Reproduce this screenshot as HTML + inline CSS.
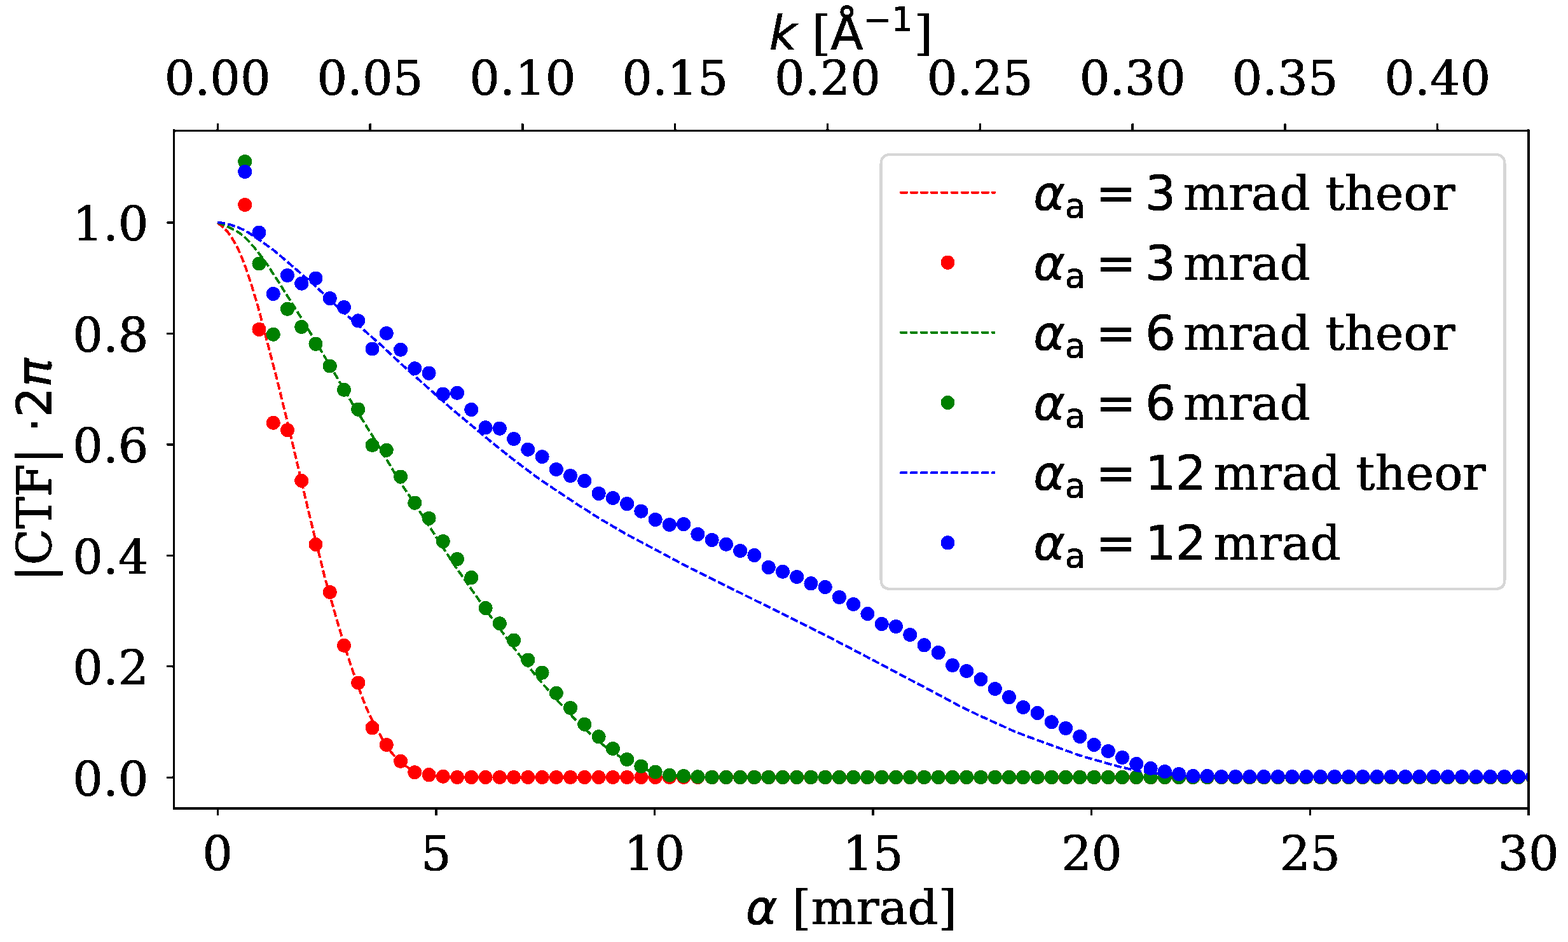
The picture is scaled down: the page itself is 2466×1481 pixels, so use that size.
<!DOCTYPE html>
<html><head><meta charset="utf-8"><title>CTF plot</title>
<style>html,body{margin:0;padding:0;background:#fff;}body{width:2466px;height:1481px;overflow:hidden;}svg{display:block;}
svg text{stroke:#000;stroke-width:0.24px;stroke-linejoin:round;}
</style></head><body>
<svg width="2466" height="1481" viewBox="0 0 591.84 355.44" version="1.1">
  <defs>
  <style type="text/css">*{stroke-linejoin: round; stroke-linecap: butt}</style>
 </defs>
 <filter id="alias" x="0" y="0" width="1" height="1" color-interpolation-filters="sRGB"><feComponentTransfer><feFuncA type="discrete" tableValues="0 1"/></feComponentTransfer></filter><g id="figure_1" filter="url(#alias)">
  <g id="patch_1">
   <path d="M 0 355.44 L 591.84 355.44 L 591.84 0 L 0 0 z
" style="fill: none"/>
  </g>
  <g id="axes_1">
   <g id="patch_2">
    <path d="M 65.64 305.04 L 576.96 305.04 L 576.96 49.32 L 65.64 49.32 z
" style="fill: none"/>
   </g>
   <g id="axes_2">
    <g id="patch_3">
     <path d="M 65.64 49.32 L 576.96 49.32 L 576.96 49.32 L 65.64 49.32 z
" style="fill: #ffffff"/>
    </g>
    <g id="matplotlib.axis_1">
     <g id="xtick_1">
      <g id="line2d_1">
       <defs>
        <path id="m0c11052400" d="M 0 0 L 0 -2.69 " style="stroke: #000000; stroke-width: 0.8"/>
       </defs>
       <g>
        <use href="#m0c11052400" x="82.134194" y="49.32" style="stroke: #000000; stroke-width: 0.8"/>
       </g>
      </g>
      <g id="text_1">
       <text style="font-size: 18px; font-family: 'DejaVu Serif', 'Liberation Serif', serif; text-anchor: middle" x="82.134194" y="35.676562" transform="rotate(-0 82.134194 35.676562)">0.00</text>
      </g>
     </g>
     <g id="xtick_2">
      <g id="line2d_2">
       <g>
        <use href="#m0c11052400" x="139.691507" y="49.32" style="stroke: #000000; stroke-width: 0.8"/>
       </g>
      </g>
      <g id="text_2">
       <text style="font-size: 18px; font-family: 'DejaVu Serif', 'Liberation Serif', serif; text-anchor: middle" x="139.691507" y="35.676562" transform="rotate(-0 139.691507 35.676562)">0.05</text>
      </g>
     </g>
     <g id="xtick_3">
      <g id="line2d_3">
       <g>
        <use href="#m0c11052400" x="197.24882" y="49.32" style="stroke: #000000; stroke-width: 0.8"/>
       </g>
      </g>
      <g id="text_3">
       <text style="font-size: 18px; font-family: 'DejaVu Serif', 'Liberation Serif', serif; text-anchor: middle" x="197.24882" y="35.676562" transform="rotate(-0 197.24882 35.676562)">0.10</text>
      </g>
     </g>
     <g id="xtick_4">
      <g id="line2d_4">
       <g>
        <use href="#m0c11052400" x="254.806133" y="49.32" style="stroke: #000000; stroke-width: 0.8"/>
       </g>
      </g>
      <g id="text_4">
       <text style="font-size: 18px; font-family: 'DejaVu Serif', 'Liberation Serif', serif; text-anchor: middle" x="254.806133" y="35.676562" transform="rotate(-0 254.806133 35.676562)">0.15</text>
      </g>
     </g>
     <g id="xtick_5">
      <g id="line2d_5">
       <g>
        <use href="#m0c11052400" x="312.363446" y="49.32" style="stroke: #000000; stroke-width: 0.8"/>
       </g>
      </g>
      <g id="text_5">
       <text style="font-size: 18px; font-family: 'DejaVu Serif', 'Liberation Serif', serif; text-anchor: middle" x="312.363446" y="35.676562" transform="rotate(-0 312.363446 35.676562)">0.20</text>
      </g>
     </g>
     <g id="xtick_6">
      <g id="line2d_6">
       <g>
        <use href="#m0c11052400" x="369.920759" y="49.32" style="stroke: #000000; stroke-width: 0.8"/>
       </g>
      </g>
      <g id="text_6">
       <text style="font-size: 18px; font-family: 'DejaVu Serif', 'Liberation Serif', serif; text-anchor: middle" x="369.920759" y="35.676562" transform="rotate(-0 369.920759 35.676562)">0.25</text>
      </g>
     </g>
     <g id="xtick_7">
      <g id="line2d_7">
       <g>
        <use href="#m0c11052400" x="427.478072" y="49.32" style="stroke: #000000; stroke-width: 0.8"/>
       </g>
      </g>
      <g id="text_7">
       <text style="font-size: 18px; font-family: 'DejaVu Serif', 'Liberation Serif', serif; text-anchor: middle" x="427.478072" y="35.676562" transform="rotate(-0 427.478072 35.676562)">0.30</text>
      </g>
     </g>
     <g id="xtick_8">
      <g id="line2d_8">
       <g>
        <use href="#m0c11052400" x="485.035385" y="49.32" style="stroke: #000000; stroke-width: 0.8"/>
       </g>
      </g>
      <g id="text_8">
       <text style="font-size: 18px; font-family: 'DejaVu Serif', 'Liberation Serif', serif; text-anchor: middle" x="485.035385" y="35.676562" transform="rotate(-0 485.035385 35.676562)">0.35</text>
      </g>
     </g>
     <g id="xtick_9">
      <g id="line2d_9">
       <g>
        <use href="#m0c11052400" x="542.592698" y="49.32" style="stroke: #000000; stroke-width: 0.8"/>
       </g>
      </g>
      <g id="text_9">
       <text style="font-size: 18px; font-family: 'DejaVu Serif', 'Liberation Serif', serif; text-anchor: middle" x="542.592698" y="35.676562" transform="rotate(-0 542.592698 35.676562)">0.40</text>
      </g>
     </g>
     <g id="text_10">
      <!-- $k$ [$\mathrm{\AA}^{-1}$] -->
      <g transform="translate(290.34 18.899375)">
       <text>
        <tspan x="0" y="-0.296875" style="font-style: oblique; font-size: 18px; font-family: 'DejaVu Sans', 'Liberation Sans', sans-serif">k</tspan>
        <tspan x="10.423828" y="-0.296875" style="font-size: 18px; font-family: 'DejaVu Serif', 'Liberation Serif', serif"> </tspan>
        <tspan x="16.145508" y="-0.296875" style="font-size: 18px; font-family: 'DejaVu Serif', 'Liberation Serif', serif">[</tspan>
        <tspan x="54.719824" y="-0.296875" style="font-size: 18px; font-family: 'DejaVu Serif', 'Liberation Serif', serif">]</tspan>
        <tspan x="23.167969" y="-0.296875" style="font-size: 18px; font-family: 'DejaVu Sans', 'Liberation Sans', sans-serif">Å</tspan>
        <tspan x="35.653711" y="-7.1875" style="font-size: 12.6px; font-family: 'DejaVu Sans', 'Liberation Sans', sans-serif">−</tspan>
        <tspan x="46.211133" y="-7.1875" style="font-size: 12.6px; font-family: 'DejaVu Sans', 'Liberation Sans', sans-serif">1</tspan>
       </text>
      </g>
     </g>
    </g>
    <g id="matplotlib.axis_2"/>
    <g id="patch_4">
     <path d="M 65.64 49.32 L 576.96 49.32 " style="fill: none; stroke: #000000; stroke-width: 0.8; stroke-linejoin: miter; stroke-linecap: square"/>
    </g>
   </g>
   <g id="matplotlib.axis_3">
    <g id="xtick_10">
     <g id="line2d_10">
      <defs>
       <path id="m625b74cdc7" d="M 0 0 L 0 2.69 " style="stroke: #000000; stroke-width: 0.8"/>
      </defs>
      <g>
       <use href="#m625b74cdc7" x="82.134194" y="305.04" style="stroke: #000000; stroke-width: 0.8"/>
      </g>
     </g>
     <g id="text_11">
      <text style="font-size: 18px; font-family: 'DejaVu Serif', 'Liberation Serif', serif; text-anchor: middle" x="82.134194" y="328.307187" transform="rotate(-0 82.134194 328.307187)">0</text>
     </g>
    </g>
    <g id="xtick_11">
     <g id="line2d_11">
      <g>
       <use href="#m625b74cdc7" x="164.605161" y="305.04" style="stroke: #000000; stroke-width: 0.8"/>
      </g>
     </g>
     <g id="text_12">
      <text style="font-size: 18px; font-family: 'DejaVu Serif', 'Liberation Serif', serif; text-anchor: middle" x="164.605161" y="328.307187" transform="rotate(-0 164.605161 328.307187)">5</text>
     </g>
    </g>
    <g id="xtick_12">
     <g id="line2d_12">
      <g>
       <use href="#m625b74cdc7" x="247.076129" y="305.04" style="stroke: #000000; stroke-width: 0.8"/>
      </g>
     </g>
     <g id="text_13">
      <text style="font-size: 18px; font-family: 'DejaVu Serif', 'Liberation Serif', serif; text-anchor: middle" x="247.076129" y="328.307187" transform="rotate(-0 247.076129 328.307187)">10</text>
     </g>
    </g>
    <g id="xtick_13">
     <g id="line2d_13">
      <g>
       <use href="#m625b74cdc7" x="329.547097" y="305.04" style="stroke: #000000; stroke-width: 0.8"/>
      </g>
     </g>
     <g id="text_14">
      <text style="font-size: 18px; font-family: 'DejaVu Serif', 'Liberation Serif', serif; text-anchor: middle" x="329.547097" y="328.307187" transform="rotate(-0 329.547097 328.307187)">15</text>
     </g>
    </g>
    <g id="xtick_14">
     <g id="line2d_14">
      <g>
       <use href="#m625b74cdc7" x="412.018065" y="305.04" style="stroke: #000000; stroke-width: 0.8"/>
      </g>
     </g>
     <g id="text_15">
      <text style="font-size: 18px; font-family: 'DejaVu Serif', 'Liberation Serif', serif; text-anchor: middle" x="412.018065" y="328.307187" transform="rotate(-0 412.018065 328.307187)">20</text>
     </g>
    </g>
    <g id="xtick_15">
     <g id="line2d_15">
      <g>
       <use href="#m625b74cdc7" x="494.489032" y="305.04" style="stroke: #000000; stroke-width: 0.8"/>
      </g>
     </g>
     <g id="text_16">
      <text style="font-size: 18px; font-family: 'DejaVu Serif', 'Liberation Serif', serif; text-anchor: middle" x="494.489032" y="328.307187" transform="rotate(-0 494.489032 328.307187)">25</text>
     </g>
    </g>
    <g id="xtick_16">
     <g id="line2d_16">
      <g>
       <use href="#m625b74cdc7" x="576.96" y="305.04" style="stroke: #000000; stroke-width: 0.8"/>
      </g>
     </g>
     <g id="text_17">
      <text style="font-size: 18px; font-family: 'DejaVu Serif', 'Liberation Serif', serif; text-anchor: middle" x="576.96" y="328.307187" transform="rotate(-0 576.96 328.307187)">30</text>
     </g>
    </g>
    <g id="text_18">
     <!-- $\alpha$ [mrad] -->
     <g transform="translate(281.52 348.957812)">
      <text>
       <tspan x="0" y="-0.328125" style="font-style: oblique; font-size: 18px; font-family: 'DejaVu Sans', 'Liberation Sans', sans-serif">α</tspan>
       <tspan x="11.865234" y="-0.328125" style="font-size: 18px; font-family: 'DejaVu Serif', 'Liberation Serif', serif"> </tspan>
       <tspan x="17.586914" y="-0.328125" style="font-size: 18px; font-family: 'DejaVu Serif', 'Liberation Serif', serif">[</tspan>
       <tspan x="24.609375" y="-0.328125" style="font-size: 18px; font-family: 'DejaVu Serif', 'Liberation Serif', serif">m</tspan>
       <tspan x="41.677734" y="-0.328125" style="font-size: 18px; font-family: 'DejaVu Serif', 'Liberation Serif', serif">r</tspan>
       <tspan x="50.282227" y="-0.328125" style="font-size: 18px; font-family: 'DejaVu Serif', 'Liberation Serif', serif">a</tspan>
       <tspan x="61.013672" y="-0.328125" style="font-size: 18px; font-family: 'DejaVu Serif', 'Liberation Serif', serif">d</tspan>
       <tspan x="72.536133" y="-0.328125" style="font-size: 18px; font-family: 'DejaVu Serif', 'Liberation Serif', serif">]</tspan>
      </text>
     </g>
    </g>
   </g>
   <g id="matplotlib.axis_4">
    <g id="ytick_1">
     <g id="line2d_17">
      <defs>
       <path id="m1a438928ec" d="M 0 0 L -2.69 0 " style="stroke: #000000; stroke-width: 0.8"/>
      </defs>
      <g>
       <use href="#m1a438928ec" x="65.64" y="293.328" style="stroke: #000000; stroke-width: 0.8"/>
      </g>
     </g>
     <g id="text_19">
      <text style="font-size: 18px; font-family: 'DejaVu Serif', 'Liberation Serif', serif; text-anchor: end" x="56.05" y="300.166594" transform="rotate(-0 56.05 300.166594)">0.0</text>
     </g>
    </g>
    <g id="ytick_2">
     <g id="line2d_18">
      <g>
       <use href="#m1a438928ec" x="65.64" y="251.4624" style="stroke: #000000; stroke-width: 0.8"/>
      </g>
     </g>
     <g id="text_20">
      <text style="font-size: 18px; font-family: 'DejaVu Serif', 'Liberation Serif', serif; text-anchor: end" x="56.05" y="258.300994" transform="rotate(-0 56.05 258.300994)">0.2</text>
     </g>
    </g>
    <g id="ytick_3">
     <g id="line2d_19">
      <g>
       <use href="#m1a438928ec" x="65.64" y="209.5968" style="stroke: #000000; stroke-width: 0.8"/>
      </g>
     </g>
     <g id="text_21">
      <text style="font-size: 18px; font-family: 'DejaVu Serif', 'Liberation Serif', serif; text-anchor: end" x="56.05" y="216.435394" transform="rotate(-0 56.05 216.435394)">0.4</text>
     </g>
    </g>
    <g id="ytick_4">
     <g id="line2d_20">
      <g>
       <use href="#m1a438928ec" x="65.64" y="167.7312" style="stroke: #000000; stroke-width: 0.8"/>
      </g>
     </g>
     <g id="text_22">
      <text style="font-size: 18px; font-family: 'DejaVu Serif', 'Liberation Serif', serif; text-anchor: end" x="56.05" y="174.569794" transform="rotate(-0 56.05 174.569794)">0.6</text>
     </g>
    </g>
    <g id="ytick_5">
     <g id="line2d_21">
      <g>
       <use href="#m1a438928ec" x="65.64" y="125.8656" style="stroke: #000000; stroke-width: 0.8"/>
      </g>
     </g>
     <g id="text_23">
      <text style="font-size: 18px; font-family: 'DejaVu Serif', 'Liberation Serif', serif; text-anchor: end" x="56.05" y="132.704194" transform="rotate(-0 56.05 132.704194)">0.8</text>
     </g>
    </g>
    <g id="ytick_6">
     <g id="line2d_22">
      <g>
       <use href="#m1a438928ec" x="65.64" y="84" style="stroke: #000000; stroke-width: 0.8"/>
      </g>
     </g>
     <g id="text_24">
      <text style="font-size: 18px; font-family: 'DejaVu Serif', 'Liberation Serif', serif; text-anchor: end" x="56.05" y="90.838594" transform="rotate(-0 56.05 90.838594)">1.0</text>
     </g>
    </g>
    <g id="text_25">
     <!-- |CTF| $\cdot 2\pi$ -->
     <g transform="translate(19.464375 219.3) rotate(-90)">
      <text>
       <tspan x="0" y="-0.25" style="font-size: 18px; font-family: 'DejaVu Serif', 'Liberation Serif', serif">|</tspan>
       <tspan x="6.064453" y="-0.25" style="font-size: 18px; font-family: 'DejaVu Serif', 'Liberation Serif', serif">C</tspan>
       <tspan x="19.836914" y="-0.25" style="font-size: 18px; font-family: 'DejaVu Serif', 'Liberation Serif', serif">T</tspan>
       <tspan x="31.842773" y="-0.25" style="font-size: 18px; font-family: 'DejaVu Serif', 'Liberation Serif', serif">F</tspan>
       <tspan x="44.332031" y="-0.25" style="font-size: 18px; font-family: 'DejaVu Serif', 'Liberation Serif', serif">|</tspan>
       <tspan x="50.396484" y="-0.25" style="font-size: 18px; font-family: 'DejaVu Serif', 'Liberation Serif', serif"> </tspan>
       <tspan x="56.118164" y="-0.25" style="font-size: 18px; font-family: 'DejaVu Sans', 'Liberation Sans', sans-serif">⋅</tspan>
       <tspan x="61.839844" y="-0.25" style="font-size: 18px; font-family: 'DejaVu Sans', 'Liberation Sans', sans-serif">2</tspan>
       <tspan x="73.291992" y="-0.25" style="font-style: oblique; font-size: 18px; font-family: 'DejaVu Sans', 'Liberation Sans', sans-serif">π</tspan>
      </text>
     </g>
    </g>
   </g>
   <g id="line2d_23">
    <path d="M 82.134194 83.976 L 84.608323 86.094309 L 85.845387 87.410313 L 87.082452 89.076317 L 88.731871 91.793084 L 89.968935 94.191566 L 91.206 96.981937 L 92.855419 101.307975 L 94.917194 107.511573 L 97.391323 115.710802 L 99.040742 121.982181 L 101.927226 133.076095 L 104.81371 144.20693 L 109.349613 162.832319 L 116.772 194.272908 L 122.544968 217.682847 L 127.080871 233.726354 L 129.967355 243.313641 L 132.441484 251.133765 L 136.152677 261.604678 L 138.214452 266.879545 L 139.863871 270.542797 L 141.925645 274.569268 L 145.224484 280.42711 L 146.873903 282.909581 L 148.110968 284.387789 L 150.585097 286.841541 L 152.646871 288.655156 L 154.29629 289.800001 L 155.94571 290.696982 L 158.007484 291.547262 L 160.069258 292.150051 L 162.543387 292.638536 L 165.429871 292.957966 L 169.553419 293.20215 L 176.563452 293.303272 L 193.882355 293.328 L 577.372355 293.328 L 577.372355 293.328 " clip-path="url(#pd4fb23fb82)" style="fill: none; stroke-dasharray: 2.88,0.96; stroke-dashoffset: 0; stroke: #ff0000; stroke-width: 0.936"/>
   </g>
   <g id="line2d_24">
    <defs>
     <path id="medd2a96662" d="M 0 2.14 C 0.567535 2.14 1.111901 1.914516 1.513209 1.513209 C 1.914516 1.111901 2.14 0.567535 2.14 0 C 2.14 -0.567535 1.914516 -1.111901 1.513209 -1.513209 C 1.111901 -1.914516 0.567535 -2.14 0 -2.14 C -0.567535 -2.14 -1.111901 -1.914516 -1.513209 -1.513209 C -1.914516 -1.111901 -2.14 -0.567535 -2.14 0 C -2.14 0.567535 -1.914516 1.111901 -1.513209 1.513209 C -1.111901 1.914516 -0.567535 2.14 0 2.14 z
" style="stroke: #ff0000"/>
    </defs>
    <g clip-path="url(#pd4fb23fb82)">
     <use href="#medd2a96662" x="92.450688" y="77.2728" style="fill: #ff0000; stroke: #ff0000"/>
     <use href="#medd2a96662" x="97.792032" y="124.296" style="fill: #ff0000; stroke: #ff0000"/>
     <use href="#medd2a96662" x="103.133376" y="159.528" style="fill: #ff0000; stroke: #ff0000"/>
     <use href="#medd2a96662" x="108.47472" y="162.288" style="fill: #ff0000; stroke: #ff0000"/>
     <use href="#medd2a96662" x="113.816064" y="181.368" style="fill: #ff0000; stroke: #ff0000"/>
     <use href="#medd2a96662" x="119.157408" y="205.44" style="fill: #ff0000; stroke: #ff0000"/>
     <use href="#medd2a96662" x="124.498752" y="223.44" style="fill: #ff0000; stroke: #ff0000"/>
     <use href="#medd2a96662" x="129.840096" y="243.552" style="fill: #ff0000; stroke: #ff0000"/>
     <use href="#medd2a96662" x="135.18144" y="257.616" style="fill: #ff0000; stroke: #ff0000"/>
     <use href="#medd2a96662" x="140.522784" y="274.584" style="fill: #ff0000; stroke: #ff0000"/>
     <use href="#medd2a96662" x="145.864128" y="281.04" style="fill: #ff0000; stroke: #ff0000"/>
     <use href="#medd2a96662" x="151.205472" y="287.208" style="fill: #ff0000; stroke: #ff0000"/>
     <use href="#medd2a96662" x="156.546816" y="291.408" style="fill: #ff0000; stroke: #ff0000"/>
     <use href="#medd2a96662" x="161.88816" y="292.344" style="fill: #ff0000; stroke: #ff0000"/>
     <use href="#medd2a96662" x="167.229504" y="292.992" style="fill: #ff0000; stroke: #ff0000"/>
     <use href="#medd2a96662" x="172.570848" y="293.28" style="fill: #ff0000; stroke: #ff0000"/>
     <use href="#medd2a96662" x="177.912192" y="293.28" style="fill: #ff0000; stroke: #ff0000"/>
     <use href="#medd2a96662" x="183.253536" y="293.28" style="fill: #ff0000; stroke: #ff0000"/>
     <use href="#medd2a96662" x="188.59488" y="293.28" style="fill: #ff0000; stroke: #ff0000"/>
     <use href="#medd2a96662" x="193.936224" y="293.28" style="fill: #ff0000; stroke: #ff0000"/>
     <use href="#medd2a96662" x="199.277568" y="293.28" style="fill: #ff0000; stroke: #ff0000"/>
     <use href="#medd2a96662" x="204.618912" y="293.28" style="fill: #ff0000; stroke: #ff0000"/>
     <use href="#medd2a96662" x="209.960256" y="293.28" style="fill: #ff0000; stroke: #ff0000"/>
     <use href="#medd2a96662" x="215.3016" y="293.28" style="fill: #ff0000; stroke: #ff0000"/>
     <use href="#medd2a96662" x="220.642944" y="293.28" style="fill: #ff0000; stroke: #ff0000"/>
     <use href="#medd2a96662" x="225.984288" y="293.28" style="fill: #ff0000; stroke: #ff0000"/>
     <use href="#medd2a96662" x="231.325632" y="293.28" style="fill: #ff0000; stroke: #ff0000"/>
     <use href="#medd2a96662" x="236.666976" y="293.28" style="fill: #ff0000; stroke: #ff0000"/>
     <use href="#medd2a96662" x="242.00832" y="293.28" style="fill: #ff0000; stroke: #ff0000"/>
     <use href="#medd2a96662" x="247.349664" y="293.28" style="fill: #ff0000; stroke: #ff0000"/>
     <use href="#medd2a96662" x="252.691008" y="293.28" style="fill: #ff0000; stroke: #ff0000"/>
     <use href="#medd2a96662" x="258.032352" y="293.28" style="fill: #ff0000; stroke: #ff0000"/>
     <use href="#medd2a96662" x="263.373696" y="293.28" style="fill: #ff0000; stroke: #ff0000"/>
     <use href="#medd2a96662" x="268.71504" y="293.28" style="fill: #ff0000; stroke: #ff0000"/>
     <use href="#medd2a96662" x="274.056384" y="293.28" style="fill: #ff0000; stroke: #ff0000"/>
     <use href="#medd2a96662" x="279.397728" y="293.28" style="fill: #ff0000; stroke: #ff0000"/>
     <use href="#medd2a96662" x="284.739072" y="293.28" style="fill: #ff0000; stroke: #ff0000"/>
     <use href="#medd2a96662" x="290.080416" y="293.28" style="fill: #ff0000; stroke: #ff0000"/>
     <use href="#medd2a96662" x="295.42176" y="293.28" style="fill: #ff0000; stroke: #ff0000"/>
     <use href="#medd2a96662" x="300.763104" y="293.28" style="fill: #ff0000; stroke: #ff0000"/>
     <use href="#medd2a96662" x="306.104448" y="293.28" style="fill: #ff0000; stroke: #ff0000"/>
     <use href="#medd2a96662" x="311.445792" y="293.28" style="fill: #ff0000; stroke: #ff0000"/>
     <use href="#medd2a96662" x="316.787136" y="293.28" style="fill: #ff0000; stroke: #ff0000"/>
     <use href="#medd2a96662" x="322.12848" y="293.28" style="fill: #ff0000; stroke: #ff0000"/>
     <use href="#medd2a96662" x="327.469824" y="293.28" style="fill: #ff0000; stroke: #ff0000"/>
     <use href="#medd2a96662" x="332.811168" y="293.28" style="fill: #ff0000; stroke: #ff0000"/>
     <use href="#medd2a96662" x="338.152512" y="293.28" style="fill: #ff0000; stroke: #ff0000"/>
     <use href="#medd2a96662" x="343.493856" y="293.28" style="fill: #ff0000; stroke: #ff0000"/>
     <use href="#medd2a96662" x="348.8352" y="293.28" style="fill: #ff0000; stroke: #ff0000"/>
     <use href="#medd2a96662" x="354.176544" y="293.28" style="fill: #ff0000; stroke: #ff0000"/>
     <use href="#medd2a96662" x="359.517888" y="293.28" style="fill: #ff0000; stroke: #ff0000"/>
     <use href="#medd2a96662" x="364.859232" y="293.28" style="fill: #ff0000; stroke: #ff0000"/>
     <use href="#medd2a96662" x="370.200576" y="293.28" style="fill: #ff0000; stroke: #ff0000"/>
     <use href="#medd2a96662" x="375.54192" y="293.28" style="fill: #ff0000; stroke: #ff0000"/>
     <use href="#medd2a96662" x="380.883264" y="293.28" style="fill: #ff0000; stroke: #ff0000"/>
     <use href="#medd2a96662" x="386.224608" y="293.28" style="fill: #ff0000; stroke: #ff0000"/>
     <use href="#medd2a96662" x="391.565952" y="293.28" style="fill: #ff0000; stroke: #ff0000"/>
     <use href="#medd2a96662" x="396.907296" y="293.28" style="fill: #ff0000; stroke: #ff0000"/>
     <use href="#medd2a96662" x="402.24864" y="293.28" style="fill: #ff0000; stroke: #ff0000"/>
     <use href="#medd2a96662" x="407.589984" y="293.28" style="fill: #ff0000; stroke: #ff0000"/>
     <use href="#medd2a96662" x="412.931328" y="293.28" style="fill: #ff0000; stroke: #ff0000"/>
     <use href="#medd2a96662" x="418.272672" y="293.28" style="fill: #ff0000; stroke: #ff0000"/>
     <use href="#medd2a96662" x="423.614016" y="293.28" style="fill: #ff0000; stroke: #ff0000"/>
     <use href="#medd2a96662" x="428.95536" y="293.28" style="fill: #ff0000; stroke: #ff0000"/>
     <use href="#medd2a96662" x="434.296704" y="293.28" style="fill: #ff0000; stroke: #ff0000"/>
     <use href="#medd2a96662" x="439.638048" y="293.28" style="fill: #ff0000; stroke: #ff0000"/>
     <use href="#medd2a96662" x="444.979392" y="293.28" style="fill: #ff0000; stroke: #ff0000"/>
     <use href="#medd2a96662" x="450.320736" y="293.28" style="fill: #ff0000; stroke: #ff0000"/>
     <use href="#medd2a96662" x="455.66208" y="293.28" style="fill: #ff0000; stroke: #ff0000"/>
     <use href="#medd2a96662" x="461.003424" y="293.28" style="fill: #ff0000; stroke: #ff0000"/>
     <use href="#medd2a96662" x="466.344768" y="293.28" style="fill: #ff0000; stroke: #ff0000"/>
     <use href="#medd2a96662" x="471.686112" y="293.28" style="fill: #ff0000; stroke: #ff0000"/>
     <use href="#medd2a96662" x="477.027456" y="293.28" style="fill: #ff0000; stroke: #ff0000"/>
     <use href="#medd2a96662" x="482.3688" y="293.28" style="fill: #ff0000; stroke: #ff0000"/>
     <use href="#medd2a96662" x="487.710144" y="293.28" style="fill: #ff0000; stroke: #ff0000"/>
     <use href="#medd2a96662" x="493.051488" y="293.28" style="fill: #ff0000; stroke: #ff0000"/>
     <use href="#medd2a96662" x="498.392832" y="293.28" style="fill: #ff0000; stroke: #ff0000"/>
     <use href="#medd2a96662" x="503.734176" y="293.28" style="fill: #ff0000; stroke: #ff0000"/>
     <use href="#medd2a96662" x="509.07552" y="293.28" style="fill: #ff0000; stroke: #ff0000"/>
     <use href="#medd2a96662" x="514.416864" y="293.28" style="fill: #ff0000; stroke: #ff0000"/>
     <use href="#medd2a96662" x="519.758208" y="293.28" style="fill: #ff0000; stroke: #ff0000"/>
     <use href="#medd2a96662" x="525.099552" y="293.28" style="fill: #ff0000; stroke: #ff0000"/>
     <use href="#medd2a96662" x="530.440896" y="293.28" style="fill: #ff0000; stroke: #ff0000"/>
     <use href="#medd2a96662" x="535.78224" y="293.28" style="fill: #ff0000; stroke: #ff0000"/>
     <use href="#medd2a96662" x="541.123584" y="293.28" style="fill: #ff0000; stroke: #ff0000"/>
     <use href="#medd2a96662" x="546.464928" y="293.28" style="fill: #ff0000; stroke: #ff0000"/>
     <use href="#medd2a96662" x="551.806272" y="293.28" style="fill: #ff0000; stroke: #ff0000"/>
     <use href="#medd2a96662" x="557.147616" y="293.28" style="fill: #ff0000; stroke: #ff0000"/>
     <use href="#medd2a96662" x="562.48896" y="293.28" style="fill: #ff0000; stroke: #ff0000"/>
     <use href="#medd2a96662" x="567.830304" y="293.28" style="fill: #ff0000; stroke: #ff0000"/>
     <use href="#medd2a96662" x="573.171648" y="293.28" style="fill: #ff0000; stroke: #ff0000"/>
     <use href="#medd2a96662" x="578.512992" y="293.28" style="fill: #ff0000; stroke: #ff0000"/>
    </g>
   </g>
   <g id="line2d_25">
    <path d="M 82.134194 83.976 L 85.020677 85.086354 L 88.319516 86.690628 L 90.38129 87.911668 L 92.03071 89.196571 L 93.680129 90.794948 L 96.154258 93.612726 L 98.628387 96.708063 L 101.102516 100.184242 L 104.81371 105.875707 L 113.885516 120.23659 L 120.070839 130.43705 L 129.555 146.405759 L 133.678548 153.40779 L 139.451516 162.650115 L 142.338 167.349126 L 151.409806 182.552255 L 154.29629 186.751306 L 157.595129 191.695568 L 171.202839 212.77043 L 183.985839 230.952459 L 194.29471 244.887372 L 202.129452 254.833013 L 209.964194 263.856199 L 214.500097 268.723163 L 217.798935 272.205249 L 221.510129 275.727518 L 226.458387 280.111409 L 229.344871 282.382778 L 232.64371 284.657388 L 236.767258 287.203798 L 239.653742 288.717975 L 242.540226 289.966878 L 245.014355 290.821827 L 247.900839 291.587921 L 251.199677 292.233387 L 254.498516 292.678121 L 259.034419 293.04417 L 263.570323 293.199049 L 275.940968 293.327244 L 419.440452 293.328 L 577.372355 293.328 L 577.372355 293.328 " clip-path="url(#pd4fb23fb82)" style="fill: none; stroke-dasharray: 2.88,0.96; stroke-dashoffset: 0; stroke: #008000; stroke-width: 0.936"/>
   </g>
   <g id="line2d_26">
    <defs>
     <path id="m6050fb2c05" d="M 0 2.14 C 0.567535 2.14 1.111901 1.914516 1.513209 1.513209 C 1.914516 1.111901 2.14 0.567535 2.14 0 C 2.14 -0.567535 1.914516 -1.111901 1.513209 -1.513209 C 1.111901 -1.914516 0.567535 -2.14 0 -2.14 C -0.567535 -2.14 -1.111901 -1.914516 -1.513209 -1.513209 C -1.914516 -1.111901 -2.14 -0.567535 -2.14 0 C -2.14 0.567535 -1.914516 1.111901 -1.513209 1.513209 C -1.111901 1.914516 -0.567535 2.14 0 2.14 z
" style="stroke: #008000"/>
    </defs>
    <g clip-path="url(#pd4fb23fb82)">
     <use href="#m6050fb2c05" x="92.450688" y="60.936" style="fill: #008000; stroke: #008000"/>
     <use href="#m6050fb2c05" x="97.792032" y="99.456" style="fill: #008000; stroke: #008000"/>
     <use href="#m6050fb2c05" x="103.133376" y="126.192" style="fill: #008000; stroke: #008000"/>
     <use href="#m6050fb2c05" x="108.47472" y="116.592" style="fill: #008000; stroke: #008000"/>
     <use href="#m6050fb2c05" x="113.816064" y="123.36" style="fill: #008000; stroke: #008000"/>
     <use href="#m6050fb2c05" x="119.157408" y="129.768" style="fill: #008000; stroke: #008000"/>
     <use href="#m6050fb2c05" x="124.498752" y="138.096" style="fill: #008000; stroke: #008000"/>
     <use href="#m6050fb2c05" x="129.840096" y="147.072" style="fill: #008000; stroke: #008000"/>
     <use href="#m6050fb2c05" x="135.18144" y="154.464" style="fill: #008000; stroke: #008000"/>
     <use href="#m6050fb2c05" x="140.522784" y="168.024" style="fill: #008000; stroke: #008000"/>
     <use href="#m6050fb2c05" x="145.864128" y="169.848" style="fill: #008000; stroke: #008000"/>
     <use href="#m6050fb2c05" x="151.205472" y="179.856" style="fill: #008000; stroke: #008000"/>
     <use href="#m6050fb2c05" x="156.546816" y="189.744" style="fill: #008000; stroke: #008000"/>
     <use href="#m6050fb2c05" x="161.88816" y="195.576" style="fill: #008000; stroke: #008000"/>
     <use href="#m6050fb2c05" x="167.229504" y="204.264" style="fill: #008000; stroke: #008000"/>
     <use href="#m6050fb2c05" x="172.570848" y="210.96" style="fill: #008000; stroke: #008000"/>
     <use href="#m6050fb2c05" x="177.912192" y="217.944" style="fill: #008000; stroke: #008000"/>
     <use href="#m6050fb2c05" x="183.253536" y="229.44" style="fill: #008000; stroke: #008000"/>
     <use href="#m6050fb2c05" x="188.59488" y="235.272" style="fill: #008000; stroke: #008000"/>
     <use href="#m6050fb2c05" x="193.936224" y="241.584" style="fill: #008000; stroke: #008000"/>
     <use href="#m6050fb2c05" x="199.277568" y="249.024" style="fill: #008000; stroke: #008000"/>
     <use href="#m6050fb2c05" x="204.618912" y="253.824" style="fill: #008000; stroke: #008000"/>
     <use href="#m6050fb2c05" x="209.960256" y="261.528" style="fill: #008000; stroke: #008000"/>
     <use href="#m6050fb2c05" x="215.3016" y="267.096" style="fill: #008000; stroke: #008000"/>
     <use href="#m6050fb2c05" x="220.642944" y="273.312" style="fill: #008000; stroke: #008000"/>
     <use href="#m6050fb2c05" x="225.984288" y="277.992" style="fill: #008000; stroke: #008000"/>
     <use href="#m6050fb2c05" x="231.325632" y="282.456" style="fill: #008000; stroke: #008000"/>
     <use href="#m6050fb2c05" x="236.666976" y="286.56" style="fill: #008000; stroke: #008000"/>
     <use href="#m6050fb2c05" x="242.00832" y="289.152" style="fill: #008000; stroke: #008000"/>
     <use href="#m6050fb2c05" x="247.349664" y="291.312" style="fill: #008000; stroke: #008000"/>
     <use href="#m6050fb2c05" x="252.691008" y="292.488" style="fill: #008000; stroke: #008000"/>
     <use href="#m6050fb2c05" x="258.032352" y="292.8" style="fill: #008000; stroke: #008000"/>
     <use href="#m6050fb2c05" x="263.373696" y="293.088" style="fill: #008000; stroke: #008000"/>
     <use href="#m6050fb2c05" x="268.71504" y="293.256" style="fill: #008000; stroke: #008000"/>
     <use href="#m6050fb2c05" x="274.056384" y="293.256" style="fill: #008000; stroke: #008000"/>
     <use href="#m6050fb2c05" x="279.397728" y="293.256" style="fill: #008000; stroke: #008000"/>
     <use href="#m6050fb2c05" x="284.739072" y="293.256" style="fill: #008000; stroke: #008000"/>
     <use href="#m6050fb2c05" x="290.080416" y="293.256" style="fill: #008000; stroke: #008000"/>
     <use href="#m6050fb2c05" x="295.42176" y="293.256" style="fill: #008000; stroke: #008000"/>
     <use href="#m6050fb2c05" x="300.763104" y="293.256" style="fill: #008000; stroke: #008000"/>
     <use href="#m6050fb2c05" x="306.104448" y="293.256" style="fill: #008000; stroke: #008000"/>
     <use href="#m6050fb2c05" x="311.445792" y="293.256" style="fill: #008000; stroke: #008000"/>
     <use href="#m6050fb2c05" x="316.787136" y="293.256" style="fill: #008000; stroke: #008000"/>
     <use href="#m6050fb2c05" x="322.12848" y="293.256" style="fill: #008000; stroke: #008000"/>
     <use href="#m6050fb2c05" x="327.469824" y="293.256" style="fill: #008000; stroke: #008000"/>
     <use href="#m6050fb2c05" x="332.811168" y="293.256" style="fill: #008000; stroke: #008000"/>
     <use href="#m6050fb2c05" x="338.152512" y="293.256" style="fill: #008000; stroke: #008000"/>
     <use href="#m6050fb2c05" x="343.493856" y="293.256" style="fill: #008000; stroke: #008000"/>
     <use href="#m6050fb2c05" x="348.8352" y="293.256" style="fill: #008000; stroke: #008000"/>
     <use href="#m6050fb2c05" x="354.176544" y="293.256" style="fill: #008000; stroke: #008000"/>
     <use href="#m6050fb2c05" x="359.517888" y="293.256" style="fill: #008000; stroke: #008000"/>
     <use href="#m6050fb2c05" x="364.859232" y="293.256" style="fill: #008000; stroke: #008000"/>
     <use href="#m6050fb2c05" x="370.200576" y="293.256" style="fill: #008000; stroke: #008000"/>
     <use href="#m6050fb2c05" x="375.54192" y="293.256" style="fill: #008000; stroke: #008000"/>
     <use href="#m6050fb2c05" x="380.883264" y="293.256" style="fill: #008000; stroke: #008000"/>
     <use href="#m6050fb2c05" x="386.224608" y="293.256" style="fill: #008000; stroke: #008000"/>
     <use href="#m6050fb2c05" x="391.565952" y="293.256" style="fill: #008000; stroke: #008000"/>
     <use href="#m6050fb2c05" x="396.907296" y="293.256" style="fill: #008000; stroke: #008000"/>
     <use href="#m6050fb2c05" x="402.24864" y="293.256" style="fill: #008000; stroke: #008000"/>
     <use href="#m6050fb2c05" x="407.589984" y="293.256" style="fill: #008000; stroke: #008000"/>
     <use href="#m6050fb2c05" x="412.931328" y="293.256" style="fill: #008000; stroke: #008000"/>
     <use href="#m6050fb2c05" x="418.272672" y="293.256" style="fill: #008000; stroke: #008000"/>
     <use href="#m6050fb2c05" x="423.614016" y="293.256" style="fill: #008000; stroke: #008000"/>
     <use href="#m6050fb2c05" x="428.95536" y="293.256" style="fill: #008000; stroke: #008000"/>
     <use href="#m6050fb2c05" x="434.296704" y="293.256" style="fill: #008000; stroke: #008000"/>
     <use href="#m6050fb2c05" x="439.638048" y="293.256" style="fill: #008000; stroke: #008000"/>
     <use href="#m6050fb2c05" x="444.979392" y="293.256" style="fill: #008000; stroke: #008000"/>
     <use href="#m6050fb2c05" x="450.320736" y="293.256" style="fill: #008000; stroke: #008000"/>
     <use href="#m6050fb2c05" x="455.66208" y="293.256" style="fill: #008000; stroke: #008000"/>
     <use href="#m6050fb2c05" x="461.003424" y="293.256" style="fill: #008000; stroke: #008000"/>
     <use href="#m6050fb2c05" x="466.344768" y="293.256" style="fill: #008000; stroke: #008000"/>
     <use href="#m6050fb2c05" x="471.686112" y="293.256" style="fill: #008000; stroke: #008000"/>
     <use href="#m6050fb2c05" x="477.027456" y="293.256" style="fill: #008000; stroke: #008000"/>
     <use href="#m6050fb2c05" x="482.3688" y="293.256" style="fill: #008000; stroke: #008000"/>
     <use href="#m6050fb2c05" x="487.710144" y="293.256" style="fill: #008000; stroke: #008000"/>
     <use href="#m6050fb2c05" x="493.051488" y="293.256" style="fill: #008000; stroke: #008000"/>
     <use href="#m6050fb2c05" x="498.392832" y="293.256" style="fill: #008000; stroke: #008000"/>
     <use href="#m6050fb2c05" x="503.734176" y="293.256" style="fill: #008000; stroke: #008000"/>
     <use href="#m6050fb2c05" x="509.07552" y="293.256" style="fill: #008000; stroke: #008000"/>
     <use href="#m6050fb2c05" x="514.416864" y="293.256" style="fill: #008000; stroke: #008000"/>
     <use href="#m6050fb2c05" x="519.758208" y="293.256" style="fill: #008000; stroke: #008000"/>
     <use href="#m6050fb2c05" x="525.099552" y="293.256" style="fill: #008000; stroke: #008000"/>
     <use href="#m6050fb2c05" x="530.440896" y="293.256" style="fill: #008000; stroke: #008000"/>
     <use href="#m6050fb2c05" x="535.78224" y="293.256" style="fill: #008000; stroke: #008000"/>
     <use href="#m6050fb2c05" x="541.123584" y="293.256" style="fill: #008000; stroke: #008000"/>
     <use href="#m6050fb2c05" x="546.464928" y="293.256" style="fill: #008000; stroke: #008000"/>
     <use href="#m6050fb2c05" x="551.806272" y="293.256" style="fill: #008000; stroke: #008000"/>
     <use href="#m6050fb2c05" x="557.147616" y="293.256" style="fill: #008000; stroke: #008000"/>
     <use href="#m6050fb2c05" x="562.48896" y="293.256" style="fill: #008000; stroke: #008000"/>
     <use href="#m6050fb2c05" x="567.830304" y="293.256" style="fill: #008000; stroke: #008000"/>
     <use href="#m6050fb2c05" x="573.171648" y="293.256" style="fill: #008000; stroke: #008000"/>
     <use href="#m6050fb2c05" x="578.512992" y="293.256" style="fill: #008000; stroke: #008000"/>
    </g>
   </g>
   <g id="line2d_27">
    <path d="M 82.134194 83.88 L 84.608323 84.206529 L 86.670097 84.725675 L 89.556581 85.70679 L 91.618355 86.585575 L 93.680129 87.695731 L 96.154258 89.327994 L 102.751935 93.98484 L 106.463129 97.073445 L 118.833774 107.734823 L 127.905581 116.354534 L 138.626806 125.640968 L 141.51329 128.201539 L 143.987419 130.341596 L 150.585097 136.559926 L 154.708645 140.263795 L 166.254581 150.505192 L 170.378129 154.171342 L 185.635258 166.89088 L 193.057645 172.841876 L 201.717097 179.394321 L 205.015935 181.737515 L 211.201258 185.86609 L 216.561871 189.435226 L 226.458387 195.748961 L 235.942548 201.311522 L 260.271484 214.254822 L 296.971065 232.393843 L 311.815839 239.833212 L 318.825871 243.480544 L 327.485323 248.010651 L 344.391871 256.914007 L 349.340129 259.484436 L 361.710774 266.132988 L 369.957871 270.12975 L 383.153226 276.098431 L 388.513839 278.144914 L 407.482161 285.038406 L 411.60571 286.228273 L 421.502226 289.018822 L 428.512258 290.718351 L 430.986387 291.106153 L 435.52229 291.77062 L 438.821129 292.143725 L 446.243516 292.666751 L 452.841194 292.972299 L 465.211839 293.258742 L 480.881323 293.308911 L 557.579323 293.328 L 577.372355 293.328 L 577.372355 293.328 " clip-path="url(#pd4fb23fb82)" style="fill: none; stroke-dasharray: 2.88,0.96; stroke-dashoffset: 0; stroke: #0000ff; stroke-width: 0.936"/>
   </g>
   <g id="line2d_28">
    <defs>
     <path id="m802c6ee3e7" d="M 0 2.14 C 0.567535 2.14 1.111901 1.914516 1.513209 1.513209 C 1.914516 1.111901 2.14 0.567535 2.14 0 C 2.14 -0.567535 1.914516 -1.111901 1.513209 -1.513209 C 1.111901 -1.914516 0.567535 -2.14 0 -2.14 C -0.567535 -2.14 -1.111901 -1.914516 -1.513209 -1.513209 C -1.914516 -1.111901 -2.14 -0.567535 -2.14 0 C -2.14 0.567535 -1.914516 1.111901 -1.513209 1.513209 C -1.111901 1.914516 -0.567535 2.14 0 2.14 z
" style="stroke: #0000ff"/>
    </defs>
    <g clip-path="url(#pd4fb23fb82)">
     <use href="#m802c6ee3e7" x="92.450688" y="64.7928" style="fill: #0000ff; stroke: #0000ff"/>
     <use href="#m802c6ee3e7" x="97.792032" y="87.768" style="fill: #0000ff; stroke: #0000ff"/>
     <use href="#m802c6ee3e7" x="103.133376" y="110.856" style="fill: #0000ff; stroke: #0000ff"/>
     <use href="#m802c6ee3e7" x="108.47472" y="103.896" style="fill: #0000ff; stroke: #0000ff"/>
     <use href="#m802c6ee3e7" x="113.816064" y="106.968" style="fill: #0000ff; stroke: #0000ff"/>
     <use href="#m802c6ee3e7" x="119.157408" y="105" style="fill: #0000ff; stroke: #0000ff"/>
     <use href="#m802c6ee3e7" x="124.498752" y="112.584" style="fill: #0000ff; stroke: #0000ff"/>
     <use href="#m802c6ee3e7" x="129.840096" y="115.92" style="fill: #0000ff; stroke: #0000ff"/>
     <use href="#m802c6ee3e7" x="135.18144" y="121.032" style="fill: #0000ff; stroke: #0000ff"/>
     <use href="#m802c6ee3e7" x="140.522784" y="131.616" style="fill: #0000ff; stroke: #0000ff"/>
     <use href="#m802c6ee3e7" x="145.864128" y="125.76" style="fill: #0000ff; stroke: #0000ff"/>
     <use href="#m802c6ee3e7" x="151.205472" y="131.952" style="fill: #0000ff; stroke: #0000ff"/>
     <use href="#m802c6ee3e7" x="156.546816" y="139.032" style="fill: #0000ff; stroke: #0000ff"/>
     <use href="#m802c6ee3e7" x="161.88816" y="140.808" style="fill: #0000ff; stroke: #0000ff"/>
     <use href="#m802c6ee3e7" x="167.229504" y="148.704" style="fill: #0000ff; stroke: #0000ff"/>
     <use href="#m802c6ee3e7" x="172.570848" y="148.272" style="fill: #0000ff; stroke: #0000ff"/>
     <use href="#m802c6ee3e7" x="177.912192" y="154.536" style="fill: #0000ff; stroke: #0000ff"/>
     <use href="#m802c6ee3e7" x="183.253536" y="161.352" style="fill: #0000ff; stroke: #0000ff"/>
     <use href="#m802c6ee3e7" x="188.59488" y="161.664" style="fill: #0000ff; stroke: #0000ff"/>
     <use href="#m802c6ee3e7" x="193.936224" y="165.6" style="fill: #0000ff; stroke: #0000ff"/>
     <use href="#m802c6ee3e7" x="199.277568" y="169.632" style="fill: #0000ff; stroke: #0000ff"/>
     <use href="#m802c6ee3e7" x="204.618912" y="172.32" style="fill: #0000ff; stroke: #0000ff"/>
     <use href="#m802c6ee3e7" x="209.960256" y="177.096" style="fill: #0000ff; stroke: #0000ff"/>
     <use href="#m802c6ee3e7" x="215.3016" y="179.52" style="fill: #0000ff; stroke: #0000ff"/>
     <use href="#m802c6ee3e7" x="220.642944" y="181.44" style="fill: #0000ff; stroke: #0000ff"/>
     <use href="#m802c6ee3e7" x="225.984288" y="186.216" style="fill: #0000ff; stroke: #0000ff"/>
     <use href="#m802c6ee3e7" x="231.325632" y="187.92" style="fill: #0000ff; stroke: #0000ff"/>
     <use href="#m802c6ee3e7" x="236.666976" y="190.104" style="fill: #0000ff; stroke: #0000ff"/>
     <use href="#m802c6ee3e7" x="242.00832" y="192.912" style="fill: #0000ff; stroke: #0000ff"/>
     <use href="#m802c6ee3e7" x="247.349664" y="196.056" style="fill: #0000ff; stroke: #0000ff"/>
     <use href="#m802c6ee3e7" x="252.691008" y="198" style="fill: #0000ff; stroke: #0000ff"/>
     <use href="#m802c6ee3e7" x="258.032352" y="197.784" style="fill: #0000ff; stroke: #0000ff"/>
     <use href="#m802c6ee3e7" x="263.373696" y="201.576" style="fill: #0000ff; stroke: #0000ff"/>
     <use href="#m802c6ee3e7" x="268.71504" y="203.736" style="fill: #0000ff; stroke: #0000ff"/>
     <use href="#m802c6ee3e7" x="274.056384" y="205.392" style="fill: #0000ff; stroke: #0000ff"/>
     <use href="#m802c6ee3e7" x="279.397728" y="207.816" style="fill: #0000ff; stroke: #0000ff"/>
     <use href="#m802c6ee3e7" x="284.739072" y="209.52" style="fill: #0000ff; stroke: #0000ff"/>
     <use href="#m802c6ee3e7" x="290.080416" y="214.056" style="fill: #0000ff; stroke: #0000ff"/>
     <use href="#m802c6ee3e7" x="295.42176" y="215.712" style="fill: #0000ff; stroke: #0000ff"/>
     <use href="#m802c6ee3e7" x="300.763104" y="217.68" style="fill: #0000ff; stroke: #0000ff"/>
     <use href="#m802c6ee3e7" x="306.104448" y="220.152" style="fill: #0000ff; stroke: #0000ff"/>
     <use href="#m802c6ee3e7" x="311.445792" y="221.52" style="fill: #0000ff; stroke: #0000ff"/>
     <use href="#m802c6ee3e7" x="316.787136" y="225.336" style="fill: #0000ff; stroke: #0000ff"/>
     <use href="#m802c6ee3e7" x="322.12848" y="228" style="fill: #0000ff; stroke: #0000ff"/>
     <use href="#m802c6ee3e7" x="327.469824" y="231.6" style="fill: #0000ff; stroke: #0000ff"/>
     <use href="#m802c6ee3e7" x="332.811168" y="235.44" style="fill: #0000ff; stroke: #0000ff"/>
     <use href="#m802c6ee3e7" x="338.152512" y="236.376" style="fill: #0000ff; stroke: #0000ff"/>
     <use href="#m802c6ee3e7" x="343.493856" y="239.52" style="fill: #0000ff; stroke: #0000ff"/>
     <use href="#m802c6ee3e7" x="348.8352" y="243.408" style="fill: #0000ff; stroke: #0000ff"/>
     <use href="#m802c6ee3e7" x="354.176544" y="246.264" style="fill: #0000ff; stroke: #0000ff"/>
     <use href="#m802c6ee3e7" x="359.517888" y="251.04" style="fill: #0000ff; stroke: #0000ff"/>
     <use href="#m802c6ee3e7" x="364.859232" y="253.176" style="fill: #0000ff; stroke: #0000ff"/>
     <use href="#m802c6ee3e7" x="370.200576" y="256.32" style="fill: #0000ff; stroke: #0000ff"/>
     <use href="#m802c6ee3e7" x="375.54192" y="259.896" style="fill: #0000ff; stroke: #0000ff"/>
     <use href="#m802c6ee3e7" x="380.883264" y="263.064" style="fill: #0000ff; stroke: #0000ff"/>
     <use href="#m802c6ee3e7" x="386.224608" y="266.856" style="fill: #0000ff; stroke: #0000ff"/>
     <use href="#m802c6ee3e7" x="391.565952" y="269.04" style="fill: #0000ff; stroke: #0000ff"/>
     <use href="#m802c6ee3e7" x="396.907296" y="272.448" style="fill: #0000ff; stroke: #0000ff"/>
     <use href="#m802c6ee3e7" x="402.24864" y="274.776" style="fill: #0000ff; stroke: #0000ff"/>
     <use href="#m802c6ee3e7" x="407.589984" y="277.896" style="fill: #0000ff; stroke: #0000ff"/>
     <use href="#m802c6ee3e7" x="412.931328" y="281.04" style="fill: #0000ff; stroke: #0000ff"/>
     <use href="#m802c6ee3e7" x="418.272672" y="283.416" style="fill: #0000ff; stroke: #0000ff"/>
     <use href="#m802c6ee3e7" x="423.614016" y="285.84" style="fill: #0000ff; stroke: #0000ff"/>
     <use href="#m802c6ee3e7" x="428.95536" y="288.24" style="fill: #0000ff; stroke: #0000ff"/>
     <use href="#m802c6ee3e7" x="434.296704" y="289.92" style="fill: #0000ff; stroke: #0000ff"/>
     <use href="#m802c6ee3e7" x="439.638048" y="291.096" style="fill: #0000ff; stroke: #0000ff"/>
     <use href="#m802c6ee3e7" x="444.979392" y="292.08" style="fill: #0000ff; stroke: #0000ff"/>
     <use href="#m802c6ee3e7" x="450.320736" y="292.8" style="fill: #0000ff; stroke: #0000ff"/>
     <use href="#m802c6ee3e7" x="455.66208" y="292.824" style="fill: #0000ff; stroke: #0000ff"/>
     <use href="#m802c6ee3e7" x="461.003424" y="293.04" style="fill: #0000ff; stroke: #0000ff"/>
     <use href="#m802c6ee3e7" x="466.344768" y="293.04" style="fill: #0000ff; stroke: #0000ff"/>
     <use href="#m802c6ee3e7" x="471.686112" y="293.04" style="fill: #0000ff; stroke: #0000ff"/>
     <use href="#m802c6ee3e7" x="477.027456" y="293.04" style="fill: #0000ff; stroke: #0000ff"/>
     <use href="#m802c6ee3e7" x="482.3688" y="293.04" style="fill: #0000ff; stroke: #0000ff"/>
     <use href="#m802c6ee3e7" x="487.710144" y="293.04" style="fill: #0000ff; stroke: #0000ff"/>
     <use href="#m802c6ee3e7" x="493.051488" y="293.04" style="fill: #0000ff; stroke: #0000ff"/>
     <use href="#m802c6ee3e7" x="498.392832" y="293.04" style="fill: #0000ff; stroke: #0000ff"/>
     <use href="#m802c6ee3e7" x="503.734176" y="293.04" style="fill: #0000ff; stroke: #0000ff"/>
     <use href="#m802c6ee3e7" x="509.07552" y="293.04" style="fill: #0000ff; stroke: #0000ff"/>
     <use href="#m802c6ee3e7" x="514.416864" y="293.04" style="fill: #0000ff; stroke: #0000ff"/>
     <use href="#m802c6ee3e7" x="519.758208" y="293.04" style="fill: #0000ff; stroke: #0000ff"/>
     <use href="#m802c6ee3e7" x="525.099552" y="293.04" style="fill: #0000ff; stroke: #0000ff"/>
     <use href="#m802c6ee3e7" x="530.440896" y="293.04" style="fill: #0000ff; stroke: #0000ff"/>
     <use href="#m802c6ee3e7" x="535.78224" y="293.04" style="fill: #0000ff; stroke: #0000ff"/>
     <use href="#m802c6ee3e7" x="541.123584" y="293.04" style="fill: #0000ff; stroke: #0000ff"/>
     <use href="#m802c6ee3e7" x="546.464928" y="293.04" style="fill: #0000ff; stroke: #0000ff"/>
     <use href="#m802c6ee3e7" x="551.806272" y="293.04" style="fill: #0000ff; stroke: #0000ff"/>
     <use href="#m802c6ee3e7" x="557.147616" y="293.04" style="fill: #0000ff; stroke: #0000ff"/>
     <use href="#m802c6ee3e7" x="562.48896" y="293.04" style="fill: #0000ff; stroke: #0000ff"/>
     <use href="#m802c6ee3e7" x="567.830304" y="293.04" style="fill: #0000ff; stroke: #0000ff"/>
     <use href="#m802c6ee3e7" x="573.171648" y="293.04" style="fill: #0000ff; stroke: #0000ff"/>
     <use href="#m802c6ee3e7" x="578.512992" y="293.04" style="fill: #0000ff; stroke: #0000ff"/>
    </g>
   </g>
   <g id="patch_5">
    <path d="M 65.64 305.04 L 65.64 49.32 " style="fill: none; stroke: #000000; stroke-width: 0.8; stroke-linejoin: miter; stroke-linecap: square"/>
   </g>
   <g id="patch_6">
    <path d="M 576.96 305.04 L 576.96 49.32 " style="fill: none; stroke: #000000; stroke-width: 0.8; stroke-linejoin: miter; stroke-linecap: square"/>
   </g>
   <g id="patch_7">
    <path d="M 65.64 305.04 L 576.96 305.04 " style="fill: none; stroke: #000000; stroke-width: 0.8; stroke-linejoin: miter; stroke-linecap: square"/>
   </g>
   <g id="patch_8">
    <path d="M 65.64 49.32 L 576.96 49.32 " style="fill: none; stroke: #000000; stroke-width: 0.8; stroke-linejoin: miter; stroke-linecap: square"/>
   </g>
   <g id="legend_1">
    <g id="patch_9">
     <path d="M 336.12 222.24375 L 564.36 222.24375 Q 567.96 222.24375 567.96 218.64375 L 567.96 61.92 Q 567.96 58.32 564.36 58.32 L 336.12 58.32 Q 332.52 58.32 332.52 61.92 L 332.52 218.64375 Q 332.52 222.24375 336.12 222.24375 z
" style="fill: none; stroke: #d6d6d6; stroke-linejoin: miter"/>
    </g>
    <g id="line2d_29" transform="translate(0 -0.24)">
     <path d="M 339.72 72.897187 L 357.72 72.897187 L 375.72 72.897187 " style="fill: none; stroke-dasharray: 2.88,0.96; stroke-dashoffset: 0; stroke: #ff0000; stroke-width: 0.936"/>
    </g>
    <g id="text_26" transform="translate(0 0.24)">
     <!-- $\alpha_\mathrm{a} = 3\,$mrad theor -->
     <g transform="translate(390.12 79.197187)">
      <text>
       <tspan x="0" y="-0.328125" style="font-style: oblique; font-size: 18px; font-family: 'DejaVu Sans', 'Liberation Sans', sans-serif">α</tspan>
       <tspan x="11.865234" y="2.625" style="font-size: 12.6px; font-family: 'DejaVu Sans', 'Liberation Sans', sans-serif">a</tspan>
       <tspan x="23.585449" y="-0.328125" style="font-size: 18px; font-family: 'DejaVu Sans', 'Liberation Sans', sans-serif">=</tspan>
       <tspan x="42.174316" y="-0.328125" style="font-size: 18px; font-family: 'DejaVu Sans', 'Liberation Sans', sans-serif">3</tspan>
       <tspan x="56.548887" y="-0.328125" style="font-size: 18px; font-family: 'DejaVu Serif', 'Liberation Serif', serif">m</tspan>
       <tspan x="73.617246" y="-0.328125" style="font-size: 18px; font-family: 'DejaVu Serif', 'Liberation Serif', serif">r</tspan>
       <tspan x="82.221738" y="-0.328125" style="font-size: 18px; font-family: 'DejaVu Serif', 'Liberation Serif', serif">a</tspan>
       <tspan x="92.953183" y="-0.328125" style="font-size: 18px; font-family: 'DejaVu Serif', 'Liberation Serif', serif">d</tspan>
       <tspan x="104.475644" y="-0.328125" style="font-size: 18px; font-family: 'DejaVu Serif', 'Liberation Serif', serif"> </tspan>
       <tspan x="110.197324" y="-0.328125" style="font-size: 18px; font-family: 'DejaVu Serif', 'Liberation Serif', serif">t</tspan>
       <tspan x="117.430723" y="-0.328125" style="font-size: 18px; font-family: 'DejaVu Serif', 'Liberation Serif', serif">h</tspan>
       <tspan x="129.023496" y="-0.328125" style="font-size: 18px; font-family: 'DejaVu Serif', 'Liberation Serif', serif">e</tspan>
       <tspan x="139.67584" y="-0.328125" style="font-size: 18px; font-family: 'DejaVu Serif', 'Liberation Serif', serif">o</tspan>
       <tspan x="150.512754" y="-0.328125" style="font-size: 18px; font-family: 'DejaVu Serif', 'Liberation Serif', serif">r</tspan>
      </text>
     </g>
    </g>
    <g id="line2d_30" transform="translate(0 -0.24)">
     <g>
      <use href="#medd2a96662" x="357.72" y="99.317812" style="fill: #ff0000; stroke: #ff0000"/>
     </g>
    </g>
    <g id="text_27" transform="translate(0 0.24)">
     <!-- $\alpha_\mathrm{a} = 3\,$mrad -->
     <g transform="translate(390.12 105.617812)">
      <text>
       <tspan x="0" y="-0.328125" style="font-style: oblique; font-size: 18px; font-family: 'DejaVu Sans', 'Liberation Sans', sans-serif">α</tspan>
       <tspan x="11.865234" y="2.625" style="font-size: 12.6px; font-family: 'DejaVu Sans', 'Liberation Sans', sans-serif">a</tspan>
       <tspan x="23.585449" y="-0.328125" style="font-size: 18px; font-family: 'DejaVu Sans', 'Liberation Sans', sans-serif">=</tspan>
       <tspan x="42.174316" y="-0.328125" style="font-size: 18px; font-family: 'DejaVu Sans', 'Liberation Sans', sans-serif">3</tspan>
       <tspan x="56.548887" y="-0.328125" style="font-size: 18px; font-family: 'DejaVu Serif', 'Liberation Serif', serif">m</tspan>
       <tspan x="73.617246" y="-0.328125" style="font-size: 18px; font-family: 'DejaVu Serif', 'Liberation Serif', serif">r</tspan>
       <tspan x="82.221738" y="-0.328125" style="font-size: 18px; font-family: 'DejaVu Serif', 'Liberation Serif', serif">a</tspan>
       <tspan x="92.953183" y="-0.328125" style="font-size: 18px; font-family: 'DejaVu Serif', 'Liberation Serif', serif">d</tspan>
      </text>
     </g>
    </g>
    <g id="line2d_31" transform="translate(0 -0.24)">
     <path d="M 339.72 125.738437 L 357.72 125.738437 L 375.72 125.738437 " style="fill: none; stroke-dasharray: 2.88,0.96; stroke-dashoffset: 0; stroke: #008000; stroke-width: 0.936"/>
    </g>
    <g id="text_28" transform="translate(0 0.24)">
     <!-- $\alpha_\mathrm{a} = 6\,$mrad theor -->
     <g transform="translate(390.12 132.038437)">
      <text>
       <tspan x="0" y="-0.328125" style="font-style: oblique; font-size: 18px; font-family: 'DejaVu Sans', 'Liberation Sans', sans-serif">α</tspan>
       <tspan x="11.865234" y="2.625" style="font-size: 12.6px; font-family: 'DejaVu Sans', 'Liberation Sans', sans-serif">a</tspan>
       <tspan x="23.585449" y="-0.328125" style="font-size: 18px; font-family: 'DejaVu Sans', 'Liberation Sans', sans-serif">=</tspan>
       <tspan x="42.174316" y="-0.328125" style="font-size: 18px; font-family: 'DejaVu Sans', 'Liberation Sans', sans-serif">6</tspan>
       <tspan x="56.548887" y="-0.328125" style="font-size: 18px; font-family: 'DejaVu Serif', 'Liberation Serif', serif">m</tspan>
       <tspan x="73.617246" y="-0.328125" style="font-size: 18px; font-family: 'DejaVu Serif', 'Liberation Serif', serif">r</tspan>
       <tspan x="82.221738" y="-0.328125" style="font-size: 18px; font-family: 'DejaVu Serif', 'Liberation Serif', serif">a</tspan>
       <tspan x="92.953183" y="-0.328125" style="font-size: 18px; font-family: 'DejaVu Serif', 'Liberation Serif', serif">d</tspan>
       <tspan x="104.475644" y="-0.328125" style="font-size: 18px; font-family: 'DejaVu Serif', 'Liberation Serif', serif"> </tspan>
       <tspan x="110.197324" y="-0.328125" style="font-size: 18px; font-family: 'DejaVu Serif', 'Liberation Serif', serif">t</tspan>
       <tspan x="117.430723" y="-0.328125" style="font-size: 18px; font-family: 'DejaVu Serif', 'Liberation Serif', serif">h</tspan>
       <tspan x="129.023496" y="-0.328125" style="font-size: 18px; font-family: 'DejaVu Serif', 'Liberation Serif', serif">e</tspan>
       <tspan x="139.67584" y="-0.328125" style="font-size: 18px; font-family: 'DejaVu Serif', 'Liberation Serif', serif">o</tspan>
       <tspan x="150.512754" y="-0.328125" style="font-size: 18px; font-family: 'DejaVu Serif', 'Liberation Serif', serif">r</tspan>
      </text>
     </g>
    </g>
    <g id="line2d_32" transform="translate(0 -0.24)">
     <g>
      <use href="#m6050fb2c05" x="357.72" y="152.159062" style="fill: #008000; stroke: #008000"/>
     </g>
    </g>
    <g id="text_29" transform="translate(0 0.24)">
     <!-- $\alpha_\mathrm{a} = 6\,$mrad -->
     <g transform="translate(390.12 158.459062)">
      <text>
       <tspan x="0" y="-0.328125" style="font-style: oblique; font-size: 18px; font-family: 'DejaVu Sans', 'Liberation Sans', sans-serif">α</tspan>
       <tspan x="11.865234" y="2.625" style="font-size: 12.6px; font-family: 'DejaVu Sans', 'Liberation Sans', sans-serif">a</tspan>
       <tspan x="23.585449" y="-0.328125" style="font-size: 18px; font-family: 'DejaVu Sans', 'Liberation Sans', sans-serif">=</tspan>
       <tspan x="42.174316" y="-0.328125" style="font-size: 18px; font-family: 'DejaVu Sans', 'Liberation Sans', sans-serif">6</tspan>
       <tspan x="56.548887" y="-0.328125" style="font-size: 18px; font-family: 'DejaVu Serif', 'Liberation Serif', serif">m</tspan>
       <tspan x="73.617246" y="-0.328125" style="font-size: 18px; font-family: 'DejaVu Serif', 'Liberation Serif', serif">r</tspan>
       <tspan x="82.221738" y="-0.328125" style="font-size: 18px; font-family: 'DejaVu Serif', 'Liberation Serif', serif">a</tspan>
       <tspan x="92.953183" y="-0.328125" style="font-size: 18px; font-family: 'DejaVu Serif', 'Liberation Serif', serif">d</tspan>
      </text>
     </g>
    </g>
    <g id="line2d_33" transform="translate(0 -0.24)">
     <path d="M 339.72 178.579687 L 357.72 178.579687 L 375.72 178.579687 " style="fill: none; stroke-dasharray: 2.88,0.96; stroke-dashoffset: 0; stroke: #0000ff; stroke-width: 0.936"/>
    </g>
    <g id="text_30" transform="translate(0 0.24)">
     <!-- $\alpha_\mathrm{a} = 12\,$mrad theor -->
     <g transform="translate(390.12 184.879687)">
      <text>
       <tspan x="0" y="-0.328125" style="font-style: oblique; font-size: 18px; font-family: 'DejaVu Sans', 'Liberation Sans', sans-serif">α</tspan>
       <tspan x="11.865234" y="2.625" style="font-size: 12.6px; font-family: 'DejaVu Sans', 'Liberation Sans', sans-serif">a</tspan>
       <tspan x="23.585449" y="-0.328125" style="font-size: 18px; font-family: 'DejaVu Sans', 'Liberation Sans', sans-serif">=</tspan>
       <tspan x="42.174316" y="-0.328125" style="font-size: 18px; font-family: 'DejaVu Sans', 'Liberation Sans', sans-serif">1</tspan>
       <tspan x="53.626465" y="-0.328125" style="font-size: 18px; font-family: 'DejaVu Sans', 'Liberation Sans', sans-serif">2</tspan>
       <tspan x="68.001035" y="-0.328125" style="font-size: 18px; font-family: 'DejaVu Serif', 'Liberation Serif', serif">m</tspan>
       <tspan x="85.069394" y="-0.328125" style="font-size: 18px; font-family: 'DejaVu Serif', 'Liberation Serif', serif">r</tspan>
       <tspan x="93.673887" y="-0.328125" style="font-size: 18px; font-family: 'DejaVu Serif', 'Liberation Serif', serif">a</tspan>
       <tspan x="104.405332" y="-0.328125" style="font-size: 18px; font-family: 'DejaVu Serif', 'Liberation Serif', serif">d</tspan>
       <tspan x="115.927793" y="-0.328125" style="font-size: 18px; font-family: 'DejaVu Serif', 'Liberation Serif', serif"> </tspan>
       <tspan x="121.649473" y="-0.328125" style="font-size: 18px; font-family: 'DejaVu Serif', 'Liberation Serif', serif">t</tspan>
       <tspan x="128.882871" y="-0.328125" style="font-size: 18px; font-family: 'DejaVu Serif', 'Liberation Serif', serif">h</tspan>
       <tspan x="140.475644" y="-0.328125" style="font-size: 18px; font-family: 'DejaVu Serif', 'Liberation Serif', serif">e</tspan>
       <tspan x="151.127988" y="-0.328125" style="font-size: 18px; font-family: 'DejaVu Serif', 'Liberation Serif', serif">o</tspan>
       <tspan x="161.964902" y="-0.328125" style="font-size: 18px; font-family: 'DejaVu Serif', 'Liberation Serif', serif">r</tspan>
      </text>
     </g>
    </g>
    <g id="line2d_34" transform="translate(0 -0.24)">
     <g>
      <use href="#m802c6ee3e7" x="357.72" y="205.000312" style="fill: #0000ff; stroke: #0000ff"/>
     </g>
    </g>
    <g id="text_31" transform="translate(0 0.24)">
     <!-- $\alpha_\mathrm{a} = 12\,$mrad -->
     <g transform="translate(390.12 211.300312)">
      <text>
       <tspan x="0" y="-0.328125" style="font-style: oblique; font-size: 18px; font-family: 'DejaVu Sans', 'Liberation Sans', sans-serif">α</tspan>
       <tspan x="11.865234" y="2.625" style="font-size: 12.6px; font-family: 'DejaVu Sans', 'Liberation Sans', sans-serif">a</tspan>
       <tspan x="23.585449" y="-0.328125" style="font-size: 18px; font-family: 'DejaVu Sans', 'Liberation Sans', sans-serif">=</tspan>
       <tspan x="42.174316" y="-0.328125" style="font-size: 18px; font-family: 'DejaVu Sans', 'Liberation Sans', sans-serif">1</tspan>
       <tspan x="53.626465" y="-0.328125" style="font-size: 18px; font-family: 'DejaVu Sans', 'Liberation Sans', sans-serif">2</tspan>
       <tspan x="68.001035" y="-0.328125" style="font-size: 18px; font-family: 'DejaVu Serif', 'Liberation Serif', serif">m</tspan>
       <tspan x="85.069394" y="-0.328125" style="font-size: 18px; font-family: 'DejaVu Serif', 'Liberation Serif', serif">r</tspan>
       <tspan x="93.673887" y="-0.328125" style="font-size: 18px; font-family: 'DejaVu Serif', 'Liberation Serif', serif">a</tspan>
       <tspan x="104.405332" y="-0.328125" style="font-size: 18px; font-family: 'DejaVu Serif', 'Liberation Serif', serif">d</tspan>
      </text>
     </g>
    </g>
   </g>
  </g>
 </g>
 <defs>
  <clipPath id="pd4fb23fb82">
   <rect x="65.64" y="49.32" width="511.32" height="255.72"/>
  </clipPath>
 </defs>
</svg>

</body></html>
